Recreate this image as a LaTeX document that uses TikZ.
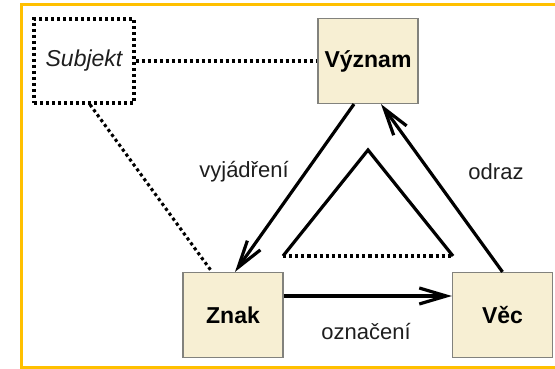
\documentclass[tikz,border=0pt]{standalone}
\usepackage{fontspec}
\setmainfont{Liberation Sans}
\usetikzlibrary{arrows.meta}
\definecolor{framecol}{RGB}{255,192,0}
\definecolor{boxfill}{RGB}{247,239,211}
\definecolor{boxline}{RGB}{130,130,125}
\definecolor{txt}{RGB}{30,30,30}
\begin{document}
\begin{tikzpicture}[x=1pt,y=-1pt,
  box/.style={draw=boxline, line width=1.2pt, fill=boxfill, minimum width=100pt, minimum height=85pt, inner sep=0pt, text=black, font=\bfseries\fontsize{23}{26}\selectfont},
  subjbox/.style={draw=black, line width=3.2pt, dash pattern=on 3.2pt off 2.8pt, minimum width=100pt, minimum height=84pt, inner sep=0pt, text=txt, font=\itshape\fontsize{23}{26}\selectfont},
  lbl/.style={text=txt, font=\fontsize{22}{26}\selectfont, inner sep=0pt},
  arr/.style={line width=3.2pt, -{Straight Barb[length=27pt,width=16pt,line width=3.2pt]}},
  dotline/.style={line width=3.2pt, dash pattern=on 3.2pt off 2.8pt},
  dotthin/.style={line width=3.1pt, dash pattern=on 3.1pt off 3pt},
  solid line/.style={line width=3.2pt}
]
\useasboundingbox (0,0) rectangle (555,369);
\draw[framecol, line width=3pt] (558,4.5) -- (21,4.5) -- (21,367.5) -- (558,367.5);

\node[subjbox] (subj) at (84,61) {Subjekt};
\node[box] (vyz) at (368,61) {Význam};
\node[box] (znak) at (233,315) {Znak};
\node[box] (vec) at (502.5,315) {Věc};

\draw[dotline] (subj.east) -- (vyz.west);
\draw[dotthin] ([xshift=6pt]subj.south) -- ([xshift=-21pt]znak.north);

\draw[arr] ([xshift=-14pt]vyz.south) -- ([xshift=2pt]znak.north);
\draw[arr] (vec.north) -- ([xshift=13pt]vyz.south);
\draw[arr] ([yshift=19pt]znak.east) -- ([yshift=19pt]vec.west);

\coordinate (tl) at (283,256);
\coordinate (ta) at (368,150);
\coordinate (tr) at (453,256);
\draw[solid line, line join=miter] (tl) -- (ta) -- (tr);
\draw[dotthin] (tl) -- (tr);

\node[lbl] (lv) at (244,172) {vyjádření};
\node[lbl] (lo) at (496,172) {odraz};
\node[lbl] (lz) at (366,332) {označení};
\end{tikzpicture}
\end{document}
